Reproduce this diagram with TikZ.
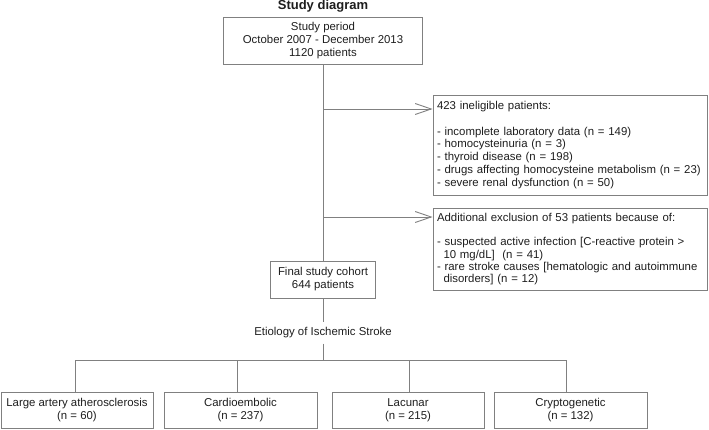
\documentclass[tikz,border=0pt]{standalone}
\usepackage{fontspec}
\setmainfont{Liberation Sans}
\usetikzlibrary{arrows.meta}
\definecolor{lc}{RGB}{128,128,128}
\definecolor{tc}{RGB}{30,30,30}
\newcommand{\indentdash}{\hspace*{6.5pt}}
\begin{document}
\begin{tikzpicture}[x=1pt,y=-1pt,
  box/.style={draw=lc, line width=0.9pt, rectangle, inner sep=0pt, align=center, text=tc, font=\fontsize{11.4}{13}\selectfont},
  lbox/.style={draw=lc, line width=0.9pt, rectangle, inner xsep=4pt, inner ysep=0pt, text width=266pt, align=left, text=tc},
  conn/.style={draw=lc, line width=0.9pt},
  arr/.style={conn, -{Straight Barb[length=16pt,width=11pt,line width=0.9pt]}},
  plain/.style={text=tc, font=\fontsize{11.4}{13}\selectfont}
]
\useasboundingbox (0,0) rectangle (709,430);
\node[text=tc, font=\fontsize{13}{15}\selectfont\bfseries] (title) at (323,6) {Study diagram};
\node[box, minimum width=199pt, minimum height=47pt] (top) at (323,40.5)
  {Study period\\October 2007 - December 2013\\1120 patients};
\node[lbox, minimum height=100pt, font=\fontsize{11.4}{12.9}\selectfont] (box2) at (570,145)
  {423 ineligible patients:\\[12.9pt]
   - incomplete laboratory data (n = 149)\\
   - homocysteinuria (n = 3)\\
   - thyroid disease (n = 198)\\
   - drugs affecting homocysteine metabolism (n = 23)\\
   - severe renal dysfunction (n = 50)};
\node[lbox, minimum height=82pt, font=\fontsize{11.4}{12.2}\selectfont] (box3) at (570,249)
  {Additional exclusion of 53 patients because of:\\[12.2pt]
   - suspected active infection [C-reactive protein >\\
   \indentdash 10 mg/dL]\ \ (n = 41)\\
   - rare stroke causes [hematologic and autoimmune\\
   \indentdash disorders] (n = 12)};
\node[box, minimum width=105pt, minimum height=37pt] (final) at (323,279.5)
  {Final study cohort\\644 patients};
\node[plain, inner xsep=2pt, inner ysep=5pt] (etio) at (323,333) {Etiology of Ischemic Stroke};
\node[box, minimum width=152pt, minimum height=36pt] (b1) at (77,410)
  {Large artery atherosclerosis\\(n = 60)};
\node[box, minimum width=153pt, minimum height=36pt] (b2) at (240.5,410)
  {Cardioembolic\\(n = 237)};
\node[box, minimum width=152pt, minimum height=36pt] (b3) at (408,410)
  {Lacunar\\(n = 215)};
\node[box, minimum width=153pt, minimum height=36pt] (b4) at (570.5,410)
  {Cryptogenetic\\(n = 132)};
% connectors
\draw[conn] (top.south) -- (top.south |- final.north);
\coordinate (a1) at (323,109);
\coordinate (a2) at (323,217);
\draw[arr] (a1) -- (a1 -| box2.west);
\draw[arr] (a2) -- (a2 -| box3.west);
\draw[conn] (final.south) -- (etio.north);
\coordinate (j) at (323,360);
\draw[conn] (etio.south) -- (j);
\draw[conn] ([xshift=-2pt]b1.north) -- ([xshift=-2pt]b1.north |- j) -- ([xshift=-4.5pt]b4.north |- j) -- ([xshift=-4.5pt]b4.north);
\draw[conn] ([xshift=-3.5pt]b2.north) -- ([xshift=-3.5pt]b2.north |- j);
\draw[conn] ([xshift=1pt]b3.north) -- ([xshift=1pt]b3.north |- j);
\end{tikzpicture}
\end{document}
